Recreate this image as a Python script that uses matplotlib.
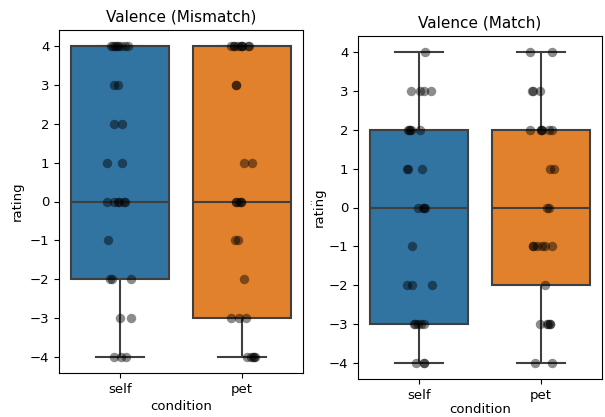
import numpy as np
import pandas as pd
import matplotlib
matplotlib.use("Agg")
import matplotlib.pyplot as plt
import seaborn as sns

# ratings per condition
conditions = ["self", "pet"]
mismatch_self = [-4]*3 + [-3]*2 + [-2]*3 + [-1]*1 + [0]*6 + [1]*2 + [2]*2 + [3]*2 + [4]*8
mismatch_pet = [-4]*5 + [-3]*3 + [-2]*1 + [-1]*2 + [0]*5 + [1]*2 + [3]*2 + [4]*9
match_self = [-4]*3 + [-3]*5 + [-2]*3 + [-1]*1 + [0]*4 + [1]*3 + [2]*5 + [3]*4 + [4]*1
match_pet = [-4]*2 + [-3]*5 + [-2]*1 + [-1]*6 + [0]*2 + [1]*2 + [2]*6 + [3]*3 + [4]*2

colors = {"self": "#3274a1", "pet": "#e1812c"}

def make_df(self_vals, pet_vals):
    return pd.DataFrame({
        "condition": ["self"]*len(self_vals) + ["pet"]*len(pet_vals),
        "rating": self_vals + pet_vals,
    })

np.random.seed(3)

fig = plt.figure(figsize=(6.05, 4.17), dpi=100)
ax1 = fig.add_axes([59/605, 1 - 373/417, 244/605, 343/417])
ax2 = fig.add_axes([358/605, 1 - 379/417, 244/605, 343/417])

panels = [
    (ax1, make_df(mismatch_self, mismatch_pet), "Valence (Mismatch)"),
    (ax2, make_df(match_self, match_pet), "Valence (Match)"),
]

for ax, df, title in panels:
    sns.boxplot(data=df, x="condition", y="rating", hue="condition",
                order=conditions, palette=colors, saturation=1,
                linecolor="#3f3f3f", linewidth=1.5, legend=False, ax=ax)
    sns.stripplot(data=df, x="condition", y="rating", order=conditions,
                  color="black", alpha=0.45, size=6.8, jitter=0.11, ax=ax)
    ax.set_ylim(-4.4, 4.4)
    ax.set_xlim(-0.5, 1.5)
    ax.set_yticks(range(-4, 5))
    ax.set_title(title, fontsize=11)
    ax.set_xlabel("condition", fontsize=9.5, labelpad=3)
    ax.set_ylabel("rating", fontsize=9.5)
    ax.tick_params(labelsize=9.5)

ax2.set_ylabel("rating", fontsize=9.5, labelpad=2)
ax2.set_xlabel("condition", fontsize=9.5, labelpad=1)
fig.text(310/605, 1 - 203/417, ":", fontsize=5, ha="center", va="center")

fig.savefig("out.png", dpi=100)
